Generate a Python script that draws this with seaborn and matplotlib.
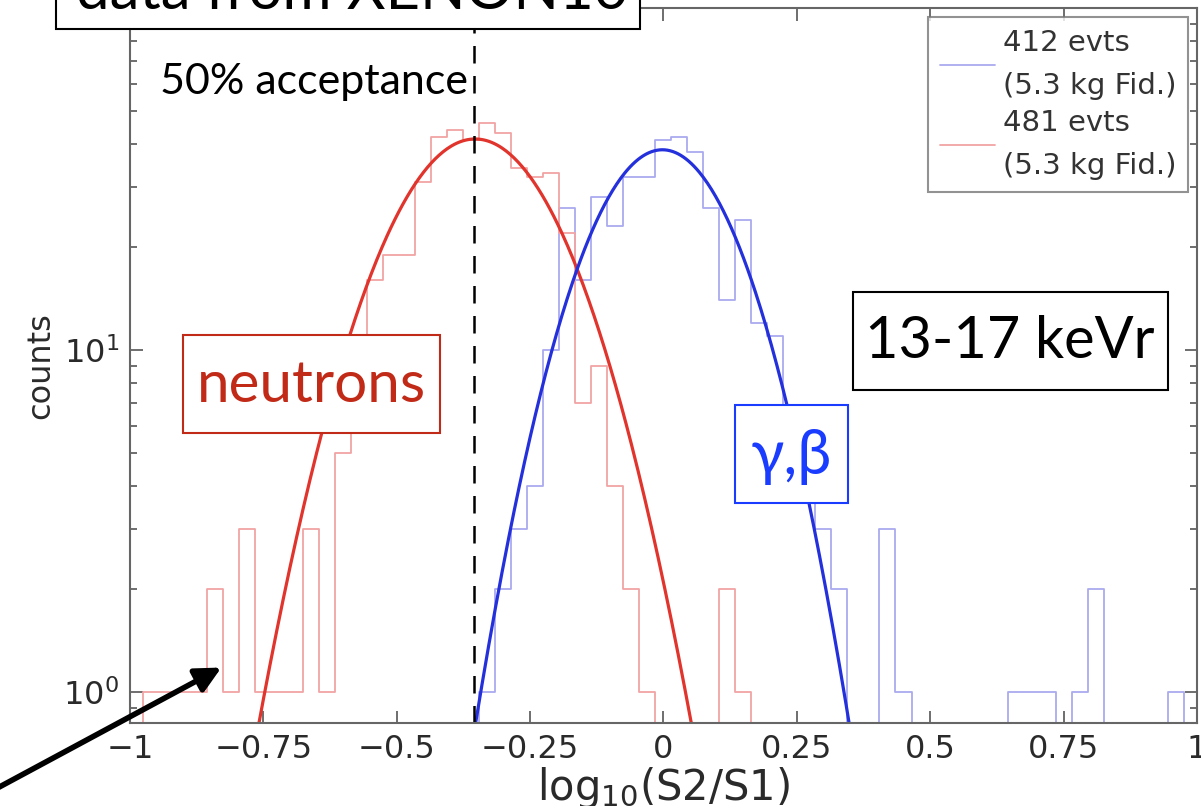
import matplotlib
matplotlib.use("Agg")
import matplotlib.pyplot as plt
import numpy as np
import seaborn as sns
from matplotlib.lines import Line2D
from matplotlib.patches import Rectangle
from matplotlib.ticker import FixedLocator, FuncFormatter, LogLocator, LogFormatterSciNotation, NullFormatter


sns.set_theme(style="ticks")
plt.rcParams["font.family"] = ["DejaVu Sans"]
plt.rcParams["mathtext.fontset"] = "dejavusans"
plt.rcParams["mathtext.default"] = "regular"

# histogram grid: bins of width 0.03, centres -0.99 ... 0.99
bin_width = 0.03
bin_centers = np.round(np.arange(-33, 34) * bin_width, 2)
bin_edges = np.round(np.append(bin_centers - bin_width / 2, bin_centers[-1] + bin_width / 2), 3).tolist()

# counts per bin
neutron_counts = [
    0, 1, 1, 1, 1, 2, 1, 3, 1, 1, 1, 3, 1, 5, 11, 16, 19, 19, 31, 42,
    44, 41, 46, 43, 34, 32, 33, 22, 7, 9, 4, 2, 1, 0, 0, 0, 0, 2, 1, 0,
    0, 0, 0, 0, 0, 0, 0, 0, 0, 0, 0, 0, 0, 0, 0, 0, 0, 0, 0, 0,
    0, 0, 0, 0, 0, 0, 0,
]
gamma_counts = [
    0, 0, 0, 0, 0, 0, 0, 0, 0, 0, 0, 0, 0, 0, 0, 0, 0, 0, 0, 0,
    0, 0, 1, 2, 3, 4, 10, 26, 16, 28, 23, 32, 32, 41, 42, 38, 26, 14, 24, 12,
    11, 6, 5, 3, 2, 0, 0, 3, 1, 0, 0, 0, 0, 0, 0, 1, 1, 1, 0, 1,
    2, 0, 0, 0, 0, 1, 0,
]

# gaussian fits: (amplitude, mean, sigma)
neutron_fit = (41.4, -0.353, 0.1445)
gamma_fit = (38.5, -0.002, 0.126)

acceptance_cut = -0.355
x_ticks = [-1, -0.75, -0.5, -0.25, 0, 0.25, 0.5, 0.75, 1]
y_ticks = [1, 10]
legend_labels = ["412 evts\n(5.3 kg Fid.)", "481 evts\n(5.3 kg Fid.)"]

red_hist = "#f2a4a4"
blue_hist = "#aaaaf0"
red_fit = "#e0342c"
blue_fit = "#2330dc"
red_text = "#c22a18"
blue_text = "#1a3cff"
gill = ["Lato", "Noto Sans", "DejaVu Sans"]


#
def gaussian(x, amp, mu, sigma):
    return amp * np.exp(-(x - mu) ** 2 / (2 * sigma ** 2))


#
def label_box(ax, x0, y0, x1, y1, edge):
    ax.add_patch(Rectangle((x0, y0), x1 - x0, y1 - y0, transform=ax.transAxes, clip_on=False,
                           facecolor="white", edgecolor=edge, linewidth=1.5, zorder=5))


fig = plt.figure(figsize=(12.01, 8.06), dpi=100)
ax = fig.add_axes([0.1082, 0.1030, 0.8884, 0.8871])
ax.set_yscale("log")

sns.histplot(x=bin_centers, weights=gamma_counts, bins=bin_edges, element="step",
             fill=False, color=blue_hist, linewidth=1.3, ax=ax)
sns.histplot(x=bin_centers, weights=neutron_counts, bins=bin_edges, element="step",
             fill=False, color=red_hist, linewidth=1.3, ax=ax)

x_fit = np.linspace(-1, 1, 801)
sns.lineplot(x=x_fit, y=gaussian(x_fit, *neutron_fit), color=red_fit, linewidth=2.3, ax=ax)
sns.lineplot(x=x_fit, y=gaussian(x_fit, *gamma_fit), color=blue_fit, linewidth=2.3, ax=ax)

ax.axvline(acceptance_cut, color="black", linewidth=1.8, linestyle=(0, (7, 5)))

ax.set_xlim(-1, 1)
ax.set_ylim(0.812, 100)
ax.xaxis.set_major_locator(FixedLocator(x_ticks))
ax.xaxis.set_major_formatter(FuncFormatter(lambda v, p: f"{v:g}".replace("-", "\u2212")))
ax.yaxis.set_major_locator(FixedLocator(y_ticks))
ax.yaxis.set_major_formatter(LogFormatterSciNotation())
ax.yaxis.set_minor_locator(LogLocator(base=10, subs=np.arange(2, 10)))
ax.yaxis.set_minor_formatter(NullFormatter())

ax.tick_params(which="both", direction="in", top=True, right=True,
               color="#555555", labelcolor="#2a2a2a", labelsize=23, width=1.2)
ax.tick_params(which="major", length=9, pad=8)
ax.tick_params(which="minor", length=5)
for spine in ax.spines.values():
    spine.set_color("#666666")
    spine.set_linewidth(1.5)

ax.set_xlabel("log$_{10}$(S2/S1)", fontsize=30, color="#2a2a2a", labelpad=0)
ax.set_ylabel("counts", fontsize=23, color="#2a2a2a", labelpad=5)

handles = [Line2D([], [], color=blue_hist, linewidth=1.3),
           Line2D([], [], color=red_hist, linewidth=1.3)]
leg = ax.legend(handles, legend_labels, loc="upper right", bbox_to_anchor=(0.9916, 0.987),
                borderaxespad=0, fontsize=21, frameon=True, fancybox=False,
                handlelength=1.9, handletextpad=0.25, labelspacing=0.28, borderpad=0.4)
leg.get_frame().set_edgecolor("#777777")
leg.get_frame().set_linewidth(1.5)
for t in leg.get_texts():
    t.set_color("#333333")
    t.set_linespacing(1.7)

# annotations
ax.text(0.028, 0.896, "50% acceptance", transform=ax.transAxes, ha="left", va="center",
        fontsize=31, family=gill, color="black")

label_box(ax, 0.0497, 0.4056, 0.2905, 0.5427, red_text)
ax.text(0.170, 0.472, "neutrons", transform=ax.transAxes, ha="center", va="center",
        fontsize=42, family=gill, color=red_text, zorder=6)

label_box(ax, 0.567, 0.3077, 0.673, 0.4448, blue_text)
ax.text(0.620, 0.373, "\u03b3,\u03b2", transform=ax.transAxes, ha="center", va="center",
        fontsize=44, family=gill, color=blue_text, zorder=6)

label_box(ax, 0.6776, 0.4657, 0.9728, 0.6028, "black")
ax.text(0.825, 0.534, "13-17 keVr", transform=ax.transAxes, ha="center", va="center",
        fontsize=41.5, family=gill, color="black", zorder=6)

label_box(ax, -0.0694, 0.9706, 0.478, 1.06, "black")
ax.text(0.208, 0.999, "data from XENON10", transform=ax.transAxes, ha="center", va="baseline",
        fontsize=43, family=gill, color="black", zorder=6)

ax.annotate("", xy=(-0.824, 1.19), xycoords="data", xytext=(-0.005, 0.02),
            textcoords="figure fraction", annotation_clip=False,
            arrowprops=dict(arrowstyle="-|>", color="black", linewidth=4, mutation_scale=38))

fig.savefig("out.png", dpi=100)
plt.close(fig)
